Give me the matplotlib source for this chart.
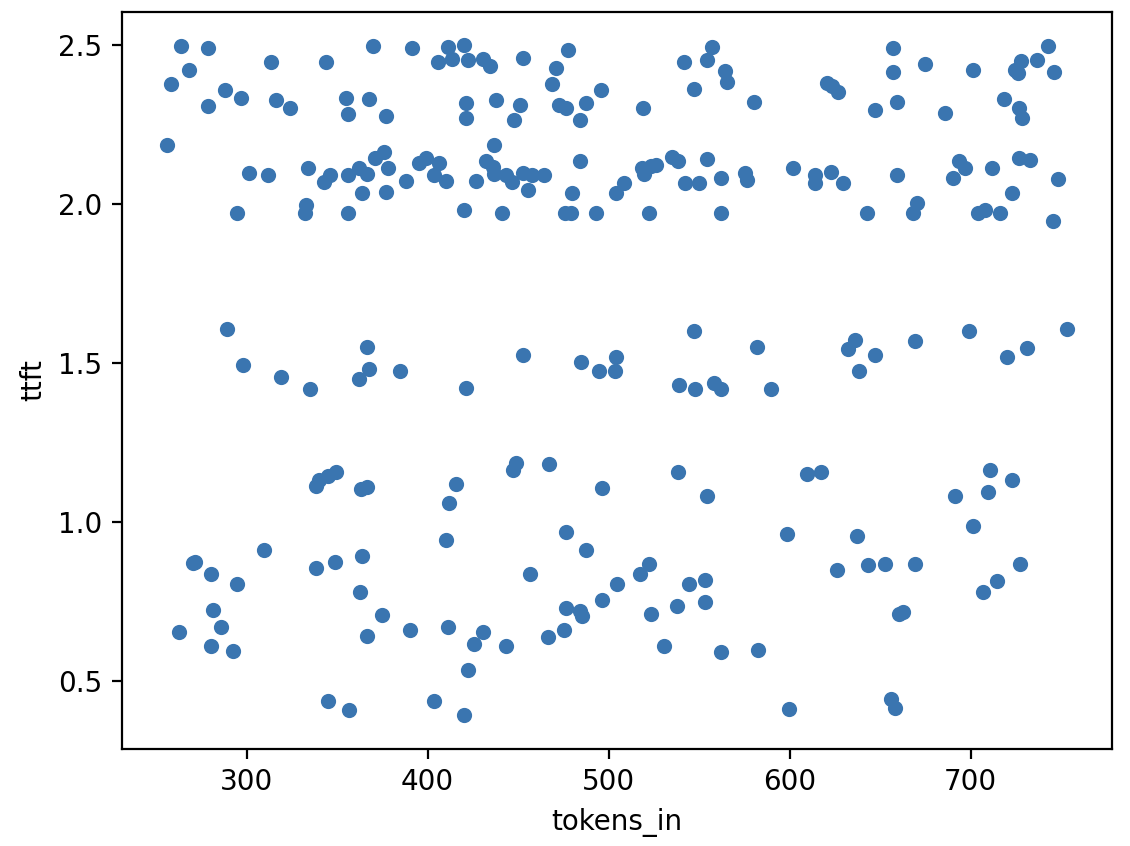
import numpy as np
import matplotlib
matplotlib.use("Agg")
from matplotlib import pyplot as plt

# values
tokens_top = [263.6, 278.8, 268.0, 258.1, 288.0, 296.7, 278.8, 313.4, 316.5, 324.2,
              344.1, 355.1, 356.0, 367.4, 255.9, 301.3, 312.1, 334.2, 345.9, 342.8,
              356.2, 362.4, 366.8, 363.9, 294.5, 333.1, 332.1, 356.2,
              369.8, 391.5, 411.5, 420.3, 406.0, 413.5, 422.5, 430.4, 434.4, 453.0,
              477.6, 470.8, 468.6, 495.9, 377.1, 421.2, 421.2, 437.7, 451.0, 447.7,
              472.6, 476.6, 487.5, 484.0, 436.8, 376.2, 370.7, 378.0, 377.1, 388.2,
              395.1, 399.2, 406.1, 403.4, 410.2, 426.7, 432.2, 436.3, 436.8, 443.3,
              446.6, 453.0, 457.9, 464.4, 455.5, 484.0, 479.6, 504.0, 420.3, 441.1,
              475.9, 479.1, 492.9,
              557.1, 554.3, 541.5, 564.5, 565.4, 547.0, 580.1, 519.1, 620.5, 623.2,
              626.5, 518.5, 519.4, 523.2, 526.2, 535.0, 538.4, 554.3, 542.4, 550.1,
              562.3, 575.5, 576.4, 602.1, 614.1, 614.1, 622.9, 629.6, 508.4, 522.6,
              562.3, 642.9,
              657.2, 657.2, 674.7, 701.3, 727.6, 726.1, 724.7, 736.5, 743.0, 746.3,
              647.1, 659.4, 685.7, 718.7, 726.6, 728.5, 659.4, 690.3, 693.4, 697.0,
              711.9, 726.6, 733.1, 748.5, 722.9, 670.4, 668.2, 704.0, 707.7, 716.5,
              745.4]
ttft_top = [2.497, 2.489, 2.420, 2.377, 2.358, 2.332, 2.307, 2.446, 2.327, 2.302,
            2.446, 2.333, 2.283, 2.328, 2.183, 2.095, 2.089, 2.113, 2.089, 2.069,
            2.089, 2.113, 2.093, 2.032, 1.970, 1.997, 1.970, 1.970,
            2.497, 2.489, 2.492, 2.498, 2.446, 2.456, 2.450, 2.456, 2.432, 2.458,
            2.484, 2.427, 2.377, 2.357, 2.276, 2.316, 2.269, 2.327, 2.309, 2.264,
            2.309, 2.302, 2.315, 2.264, 2.184, 2.161, 2.145, 2.113, 2.038, 2.070,
            2.127, 2.145, 2.127, 2.090, 2.070, 2.070, 2.135, 2.116, 2.093, 2.090,
            2.069, 2.096, 2.090, 2.090, 2.044, 2.133, 2.032, 2.032, 1.981, 1.971,
            1.971, 1.971, 1.971,
            2.492, 2.450, 2.446, 2.416, 2.383, 2.359, 2.320, 2.302, 2.380, 2.369,
            2.352, 2.113, 2.093, 2.119, 2.122, 2.148, 2.133, 2.140, 2.064, 2.064,
            2.082, 2.095, 2.074, 2.113, 2.090, 2.064, 2.101, 2.064, 2.064, 1.970,
            1.970, 1.970,
            2.489, 2.414, 2.439, 2.420, 2.448, 2.411, 2.419, 2.451, 2.497, 2.414,
            2.295, 2.320, 2.284, 2.328, 2.302, 2.270, 2.090, 2.082, 2.133, 2.113,
            2.113, 2.145, 2.138, 2.077, 2.032, 2.002, 1.971, 1.971, 1.981, 1.971,
            1.945]

tokens_mid = [289.0, 297.8, 318.9, 335.3, 366.3, 367.4, 362.4, 384.9, 421.2, 453.0,
              484.9, 494.7, 504.0, 503.5, 547.0, 581.9, 636.1, 632.4, 638.3, 539.1,
              548.0, 558.0, 562.3, 589.8, 647.1, 669.5, 698.9, 719.9, 731.0, 753.1]
ttft_mid = [1.605, 1.494, 1.456, 1.419, 1.550, 1.482, 1.450, 1.475, 1.420, 1.524,
            1.501, 1.475, 1.519, 1.475, 1.600, 1.550, 1.571, 1.542, 1.475, 1.431,
            1.419, 1.438, 1.419, 1.419, 1.524, 1.569, 1.600, 1.519, 1.545, 1.606]

tokens_low = [338.6, 339.8, 345.0, 349.6, 363.0, 366.8, 415.7, 412.0, 448.8, 447.3,
              467.1, 496.2, 538.2, 554.3, 609.4, 617.4, 711.0, 722.8, 709.9, 691.2,
              701.3, 410.2, 476.3, 487.3, 456.5, 504.6, 598.8, 637.0, 626.0, 643.4,
              652.6, 669.2, 727.4, 714.5, 706.8, 660.4, 662.7, 655.9, 658.1, 522.6,
              517.1, 544.6, 553.4, 553.4, 537.8, 523.5, 530.5, 562.3, 582.3, 599.7,
              270.2, 271.7, 280.2, 294.5, 309.7, 281.3, 285.8, 262.5, 280.2, 292.3,
              338.6, 348.7, 363.9, 362.8, 366.3, 345.0, 356.5,
              374.9, 390.4, 411.5, 430.4, 425.8, 443.3, 422.5, 403.8, 420.3, 476.3,
              484.0, 485.1, 496.2, 475.4, 466.6]
ttft_low = [1.112, 1.131, 1.143, 1.157, 1.102, 1.111, 1.120, 1.060, 1.185, 1.162,
            1.182, 1.107, 1.157, 1.080, 1.151, 1.157, 1.162, 1.131, 1.093, 1.080,
            0.987, 0.943, 0.969, 0.912, 0.838, 0.804, 0.963, 0.956, 0.849, 0.864,
            0.869, 0.869, 0.869, 0.813, 0.780, 0.711, 0.718, 0.444, 0.416, 0.869,
            0.836, 0.804, 0.818, 0.749, 0.736, 0.711, 0.611, 0.592, 0.598, 0.411,
            0.870, 0.874, 0.836, 0.804, 0.912, 0.724, 0.669, 0.655, 0.611, 0.593,
            0.855, 0.874, 0.893, 0.780, 0.643, 0.437, 0.408,
            0.707, 0.661, 0.669, 0.655, 0.617, 0.611, 0.536, 0.436, 0.392, 0.729,
            0.721, 0.705, 0.755, 0.660, 0.638]

tokens_in = np.array(tokens_top + tokens_mid + tokens_low)
ttft = np.array(ttft_top + ttft_mid + ttft_low)

fig = plt.figure(figsize=(5.65, 4.23), dpi=200)
ax = fig.add_axes([0.1077, 0.1147, 0.8761, 0.8715])

ax.scatter(tokens_in, ttft, s=20, color="#3a75b0")
ax.set_xlabel("tokens_in")
ax.set_ylabel("ttft")

plt.savefig("out.png", dpi=200)
